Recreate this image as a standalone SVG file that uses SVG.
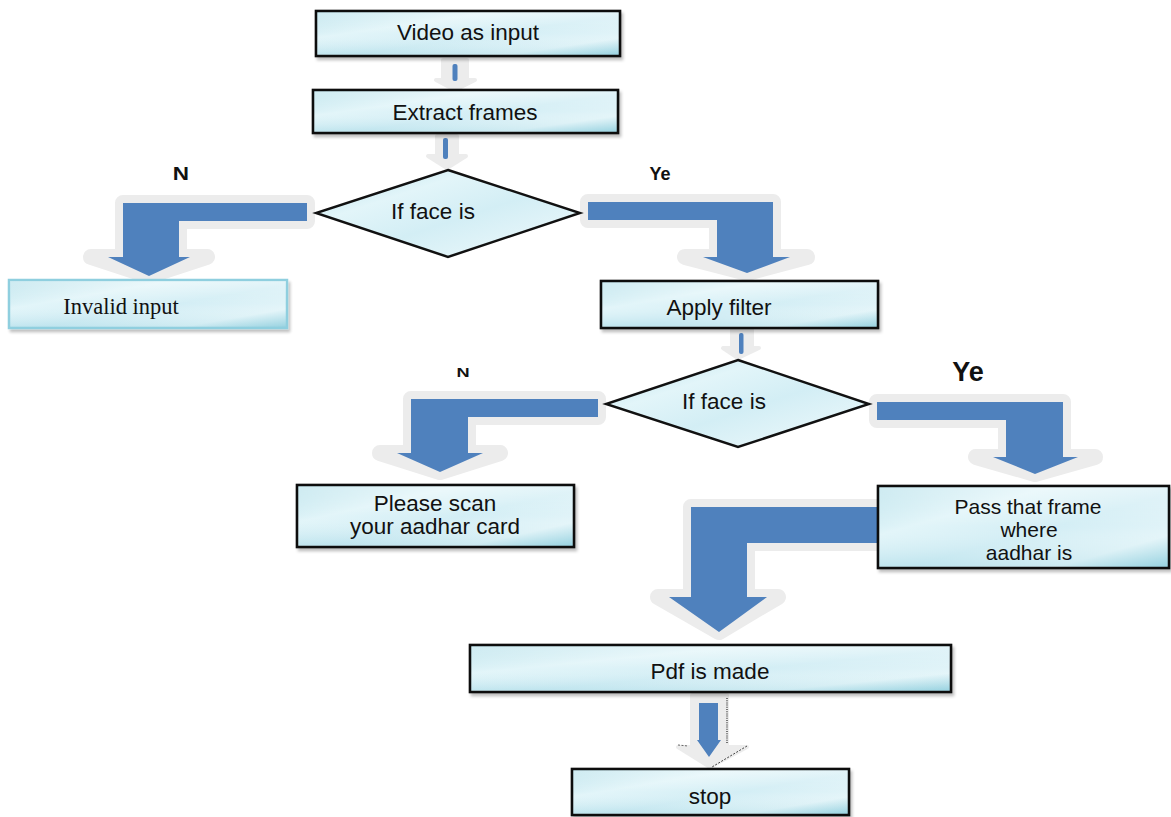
<svg xmlns="http://www.w3.org/2000/svg" width="1171" height="817" viewBox="0 0 1171 817">
<defs>
<linearGradient id="fillg" x1="0" y1="0" x2="1" y2="1">
<stop offset="0" stop-color="#b4e0ea"/>
<stop offset="0.3" stop-color="#e2f5f9"/>
<stop offset="0.55" stop-color="#d3eef5"/>
<stop offset="0.8" stop-color="#e4f5f9"/>
<stop offset="1" stop-color="#9dd5e2"/>
</linearGradient>
<linearGradient id="fillv" x1="0" y1="0" x2="0" y2="1">
<stop offset="0" stop-color="#ffffff" stop-opacity="0.35"/>
<stop offset="0.5" stop-color="#ffffff" stop-opacity="0"/>
<stop offset="1" stop-color="#7fc6d8" stop-opacity="0.25"/>
</linearGradient>
<filter id="sh" x="-5%" y="-10%" width="115%" height="140%">
<feGaussianBlur in="SourceAlpha" stdDeviation="1.5"/>
<feOffset dx="2" dy="3" result="o"/>
<feComponentTransfer><feFuncA type="linear" slope="0.25"/></feComponentTransfer>
<feMerge><feMergeNode/><feMergeNode in="SourceGraphic"/></feMerge>
</filter>
</defs>
<style>
.box{fill:url(#fillg);stroke:#111;stroke-width:2.6;filter:url(#sh)}
.ov{fill:url(#fillv);stroke:none}
.dia{fill:url(#fillg);stroke:#111;stroke-width:2.4;stroke-linejoin:miter}
.t{font-family:"Liberation Sans",Arial,sans-serif;font-size:22.5px;fill:#111;text-anchor:middle}
.tp{font-family:"Liberation Sans",Arial,sans-serif;font-size:21px;fill:#111;text-anchor:middle}
.ts{font-family:"Liberation Serif","Times New Roman",serif;font-size:22.5px;fill:#111;text-anchor:middle}
.lb{font-family:"Liberation Sans",Arial,sans-serif;font-weight:bold;fill:#111;text-anchor:middle}
.ga{fill:#ececec;stroke:#ececec;stroke-width:16;stroke-linejoin:round}
.gs{fill:#ececec;stroke:#ececec;stroke-width:4;stroke-linejoin:round}
.ba{fill:#4f81bd}
</style>

<g id="connectors">
<path class="gs" d="M443,60 H467 V80 H475 L455,90 L436,80 H443 Z"/>
<rect class="ba" x="452.5" y="64" width="5" height="17" rx="2"/>
<path class="gs" d="M437,136 H457 V156 H466 L447,168 L428,156 H437 Z"/>
<rect class="ba" x="443" y="138" width="5" height="21" rx="2"/>
<path class="ga" d="M307,203 H123 V257 H91 L149,276 L207,257 H179 V221 H307 Z"/>
<path class="ba" d="M307,203 H123 V257 H108 L149,276 L190,257 H179 V221 H307 Z"/>
<path class="ga" d="M588,202 H773 V257 H807 L747,273 L685,257 H717 V220 H588 Z"/>
<path class="ba" d="M588,202 H773 V257 H790 L747,273 L703,257 H717 V220 H588 Z"/>
<path class="gs" d="M732,327 H752 V348 H759 L738,358 L723,348 H732 Z"/>
<rect class="ba" x="739" y="333" width="4.5" height="21" rx="2"/>
<path class="ga" d="M598,399 H411 V453 H380 L440,472 L500,453 H468 V417 H598 Z"/>
<path class="ba" d="M598,399 H411 V453 H397 L440,472 L483,453 H468 V417 H598 Z"/>
<path class="ga" d="M877,402 H1063 V457 H1095 L1035,474 L976,457 H1006 V420 H877 Z"/>
<path class="ba" d="M877,402 H1063 V457 H1078 L1035,474 L993,457 H1006 V420 H877 Z"/>
<path class="ga" d="M877,507 H691 V597 H658 L719,632 L778,597 H747 V543 H877 Z"/>
<path class="ba" d="M877,507 H691 V597 H669 L719,632 L767,597 H747 V543 H877 Z"/>
<path class="gs" d="M692,695 H727 V747 H747 L710,767 L678,747 H692 Z"/>
<path class="ba" d="M699,703 H718 V740 H721 L709,757 L697,740 H699 Z"/>
<path d="M727,698 V744" stroke="#222" stroke-width="1.2" stroke-dasharray="1,1.2" fill="none"/>
<path d="M747,746 L712,767" stroke="#444" stroke-width="1" stroke-dasharray="2,1.5" fill="none"/>
<path d="M678,745 L688,746" stroke="#666" stroke-width="1" stroke-dasharray="2,1.5" fill="none"/>
</g>

<g id="labels">
<text class="lb" x="181" y="180" font-size="18" transform="translate(181,180) scale(1.25,1) translate(-181,-180)">N</text>
<text class="lb" x="660" y="180" font-size="18">Ye</text>
<text class="lb" x="463" y="377" font-size="14" transform="translate(463,377) scale(1.3,0.85) translate(-463,-377)">N</text>
<text class="lb" x="968" y="381" font-size="27">Ye</text>
</g>

<g id="node-video">
<rect class="box" x="316" y="11" width="304" height="45"/>
<rect class="ov" x="317.5" y="12.5" width="301" height="42"/>
<text class="t" x="468" y="40">Video as input</text>
</g>

<g id="node-extract">
<rect class="box" x="313" y="90" width="305" height="43"/>
<rect class="ov" x="314.5" y="91.5" width="302" height="40"/>
<text class="t" x="465" y="120">Extract frames</text>
</g>

<g id="node-decision1">
<polygon class="dia" points="448,170 580,213 448,257 316,213"/>
<text class="t" x="433" y="219">If face is</text>
</g>

<g id="node-invalid">
<rect x="9" y="280" width="278" height="48" fill="url(#fillg)" stroke="#8fcfdf" stroke-width="2.5" filter="url(#sh)"/>
<rect class="ov" x="10" y="281" width="276" height="46"/>
<text class="ts" x="121" y="314">Invalid input</text>
</g>

<g id="node-apply">
<rect class="box" x="601" y="281" width="277" height="47"/>
<rect class="ov" x="602.5" y="282.5" width="274" height="44"/>
<text class="t" x="719" y="315">Apply filter</text>
</g>

<g id="node-decision2">
<polygon class="dia" points="738,360 869,404 738,447 606,404"/>
<text class="t" x="724" y="409">If face is</text>
</g>

<g id="node-please">
<rect class="box" x="297" y="485" width="277" height="62"/>
<rect class="ov" x="298.5" y="486.5" width="274" height="59"/>
<text class="t" x="435" y="511">Please scan</text>
<text class="t" x="435" y="534">your aadhar card</text>
</g>

<g id="node-pass">
<rect class="box" x="878" y="486" width="291" height="82"/>
<rect class="ov" x="879.5" y="487.5" width="288" height="79"/>
<text class="tp" x="1028" y="514">Pass that frame</text>
<text class="tp" x="1029" y="537">where</text>
<text class="tp" x="1029" y="560">aadhar is</text>
</g>

<g id="node-pdf">
<rect class="box" x="470" y="645" width="481" height="47"/>
<rect class="ov" x="471.5" y="646.5" width="478" height="44"/>
<text class="t" x="710" y="679">Pdf is made</text>
</g>

<g id="node-stop">
<rect class="box" x="572" y="769" width="277" height="46"/>
<rect class="ov" x="573.5" y="770.5" width="274" height="43"/>
<text class="t" x="710" y="804">stop</text>
</g>
</svg>
